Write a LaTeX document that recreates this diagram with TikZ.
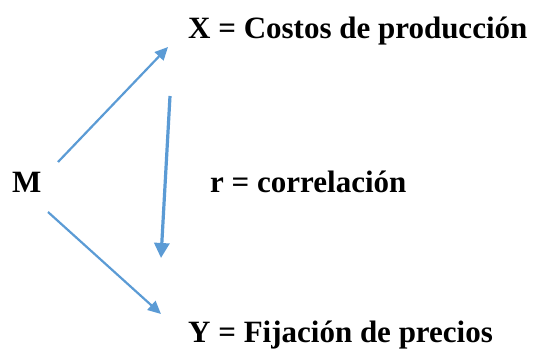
\documentclass[tikz,border=0pt]{standalone}
\usepackage{fontspec}
\setmainfont{Liberation Serif}
\usetikzlibrary{arrows.meta}
\definecolor{arrowblue}{HTML}{5B9BD5}
\tikzset{
  lbl/.style={anchor=base west, inner sep=0pt, font=\fontsize{31}{36}\selectfont\bfseries},
  conn/.style={draw=arrowblue, line width=2.2pt, -{Triangle[length=13pt,width=12pt]}},
  connthick/.style={draw=arrowblue, line width=3.2pt, -{Triangle[length=15pt,width=15pt]}}
}
\begin{document}
\begin{tikzpicture}[x=1pt,y=-1pt]
\useasboundingbox (0,0) rectangle (540,350);
\node[lbl] (X) at (188,39) {X = Costos de producción};
\node[lbl] (M) at (12,192) {M};
\node[lbl] (R) at (210,192) {r = correlación};
\node[lbl] (Y) at (188,342) {Y = Fijación de precios};
\coordinate (m1) at (58,162);
\coordinate (x1) at (168,47);
\coordinate (m2) at (48,212);
\coordinate (y1) at (161,314);
\coordinate (r1) at (170,96);
\coordinate (r2) at (161,258);
\draw[conn] (m1) -- (x1);
\draw[conn] (m2) -- (y1);
\draw[connthick] (r1) -- (r2);
\end{tikzpicture}
\end{document}
